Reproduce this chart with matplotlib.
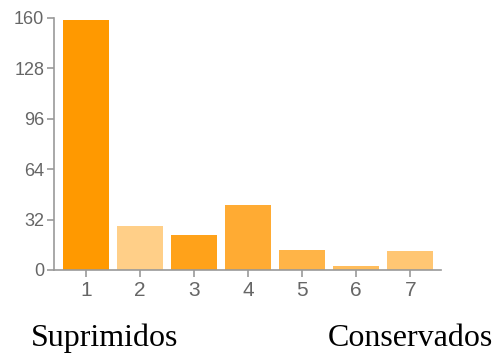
import matplotlib
matplotlib.use("Agg")
import matplotlib.pyplot as plt

# --- data ---
categories = [1, 2, 3, 4, 5, 6, 7]
counts = [159, 28, 22, 41, 13, 2.5, 12]
bar_colors = ["#FF9900", "#FFCF88", "#FFA21A", "#FFAB33", "#FFB447", "#FFBD5C", "#FFC673"]
yticks = [0, 32, 64, 96, 128, 160]
left_label = "Suprimidos"
right_label = "Conservados"

fig = plt.figure(figsize=(4.94, 3.56), dpi=100)
ax = fig.add_axes([54 / 494, 1 - 270 / 356, (441 - 54) / 494, (270 - 18) / 356])

ax.bar(categories, counts, width=0.85, color=bar_colors, edgecolor="none")

ax.set_xlim(0.41, 7.57)
ax.set_ylim(0, 160)
ax.set_xticks(categories)
ax.set_yticks(yticks)

grey = "#666666"
for side in ["top", "right"]:
    ax.spines[side].set_visible(False)
for side in ["left", "bottom"]:
    ax.spines[side].set_color("#999999")
    ax.spines[side].set_linewidth(1.2)
ax.tick_params(colors="#999999", labelcolor=grey, length=5, width=1.2)
ax.tick_params(axis="y", labelsize=13, pad=2)
ax.tick_params(axis="x", labelsize=15, pad=3)
for lab in ax.get_xticklabels() + ax.get_yticklabels():
    lab.set_family("Liberation Sans")

fig.text(31 / 494, 1 - 346 / 356, left_label, family="Liberation Serif",
         fontsize=23, color="black", va="baseline")
fig.text(328 / 494, 1 - 346 / 356, right_label, family="Liberation Serif",
         fontsize=23, color="black", va="baseline")

fig.savefig("out.png", dpi=100)
